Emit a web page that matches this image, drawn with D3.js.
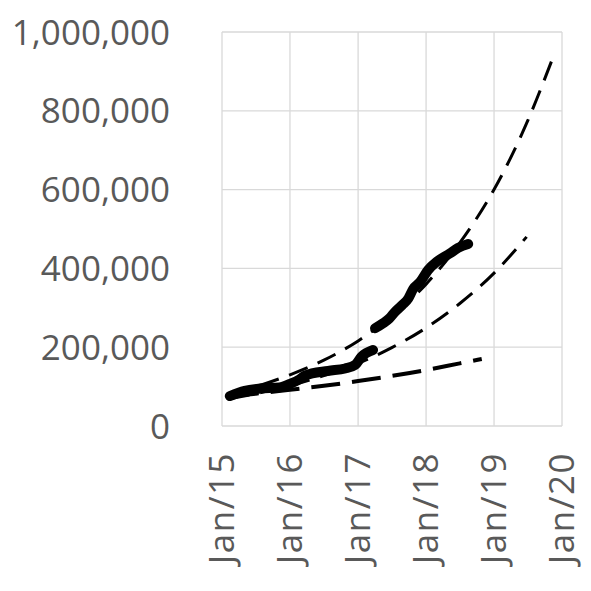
<!DOCTYPE html>
<html>
<head>
<meta charset="utf-8">
<script src="https://cdn.jsdelivr.net/npm/d3@7"></script>
<style>
  body { margin: 0; background: #fff; }
  text { font-family: "Open Sans", "Noto Sans", sans-serif; fill: #595959; }
</style>
</head>
<body>
<svg width="591" height="591"></svg>
<script>
var svg = d3.select("svg");

// actual values (thousands), null = gap in the record
var actualDates = ["2015-02-12","2015-05-03","2015-07-23","2015-11-06","2016-01-01","2016-02-23",
  "2016-03-21","2016-07-24","2016-10-23","2016-12-16","2017-01-19","2017-03-22","2017-03-27",
  "2017-04-02","2017-05-16","2017-06-18","2017-07-17","2017-08-26","2017-09-28","2017-10-24",
  "2017-11-29","2018-01-12","2018-02-28","2018-05-09","2018-06-22","2018-08-15"];
var actualValues = [76, 89, 95, 98, 107, 119,
  128, 140, 146, 155, 176, 193, null,
  248, 261, 273, 289, 307, 324, 348,
  365, 396, 417, 438, 452, 462];

// trend lines (thousands)
var trendADates = ["2015-02-12","2015-07-01","2016-01-01","2016-07-01","2017-01-01","2017-07-01",
  "2018-01-01","2018-07-01","2019-01-01","2019-07-01","2019-11-10"];
var trendAValues = [83, 100, 130, 167, 216, 279, 360, 465, 600, 775, 931];

var trendBDates = ["2015-02-12","2015-07-01","2016-01-01","2016-07-01","2017-01-01","2017-07-01",
  "2018-01-01","2018-07-01","2019-01-01","2019-06-25"];
var trendBValues = [69, 82, 102, 128, 159, 199, 249, 311, 388, 480];

var trendCDates = ["2015-02-12","2015-07-01","2016-01-01","2016-07-01","2017-01-01","2017-07-01",
  "2018-01-01","2018-07-01","2018-10-27"];
var trendCValues = [76, 82, 92, 102, 114, 127, 142, 159, 170];

var yTicks = [0, 200000, 400000, 600000, 800000, 1000000];
var xTickLabels = ["Jan/15","Jan/16","Jan/17","Jan/18","Jan/19","Jan/20"];

var parse = d3.timeParse("%Y-%m-%d");
function pairs(ds, vs) {
  return ds.map(function(d, i) { return { date: parse(d), v: vs[i] == null ? null : vs[i] * 1000 }; });
}

var x = d3.scaleTime()
  .domain([new Date(2015, 0, 1), new Date(2020, 0, 1)])
  .range([222, 562]);
var y = d3.scaleLinear()
  .domain([0, 1000000])
  .range([426, 32]);

var yearTicks = d3.timeYear.range(new Date(2015, 0, 1), new Date(2020, 0, 2));

// gridlines
var grid = svg.append("g").attr("class", "grid");
grid.selectAll("line.h")
  .data(yTicks)
  .enter().append("line")
  .attr("x1", 222).attr("x2", 562)
  .attr("y1", d => y(d)).attr("y2", d => y(d))
  .attr("stroke", "#d9d9d9").attr("stroke-width", 1.3);
grid.selectAll("line.v")
  .data(yearTicks)
  .enter().append("line")
  .attr("x1", d => x(d)).attr("x2", d => x(d))
  .attr("y1", 32).attr("y2", 426)
  .attr("stroke", "#d9d9d9").attr("stroke-width", 1.3);

// y labels
var fmt = d3.format(",");
svg.append("g").selectAll("text")
  .data(yTicks)
  .enter().append("text")
  .attr("x", 170)
  .attr("y", d => y(d))
  .attr("dy", "0.36em")
  .attr("text-anchor", "end")
  .attr("font-size", 35)
  .text(d => fmt(d));

// x labels, rotated
svg.append("g").selectAll("text")
  .data(yearTicks)
  .enter().append("text")
  .attr("transform", d => "translate(" + x(d) + ",452) rotate(-90)")
  .attr("dy", "0.35em")
  .attr("text-anchor", "end")
  .attr("font-size", 35)
  .attr("letter-spacing", 1.5)
  .text((d, i) => xTickLabels[i]);

var line = d3.line()
  .defined(d => d.v != null)
  .curve(d3.curveMonotoneX)
  .x(d => x(d.date))
  .y(d => y(d.v));
var smooth = d3.line()
  .curve(d3.curveMonotoneX)
  .x(d => x(d.date))
  .y(d => y(d.v));

// actual series
svg.append("path")
  .datum(pairs(actualDates, actualValues))
  .attr("d", line)
  .attr("fill", "none")
  .attr("stroke", "#000")
  .attr("stroke-width", 10)
  .attr("stroke-linecap", "round")
  .attr("stroke-linejoin", "round");

// trend lines
svg.append("path")
  .datum(pairs(trendADates, trendAValues))
  .attr("d", smooth)
  .attr("fill", "none").attr("stroke", "#000")
  .attr("stroke-width", 3).attr("stroke-dasharray", "20,11");
svg.append("path")
  .datum(pairs(trendBDates, trendBValues))
  .attr("d", smooth)
  .attr("fill", "none").attr("stroke", "#000")
  .attr("stroke-width", 3).attr("stroke-dasharray", "20,11");
svg.append("path")
  .datum(pairs(trendCDates, trendCValues))
  .attr("d", smooth)
  .attr("fill", "none").attr("stroke", "#000")
  .attr("stroke-width", 4).attr("stroke-dasharray", "29,12");
</script>
</body>
</html>
